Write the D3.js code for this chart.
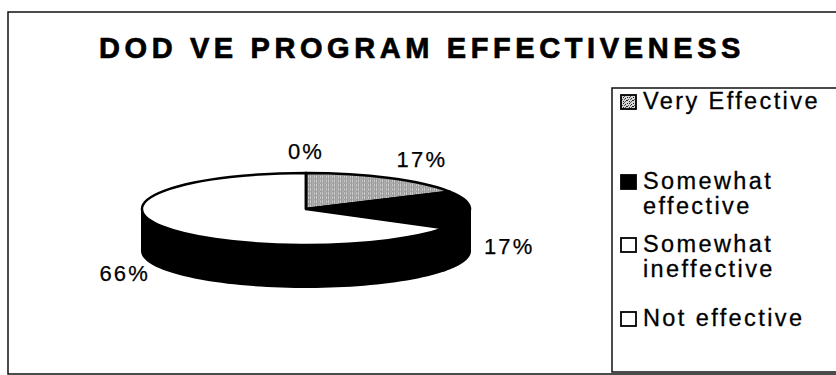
<!DOCTYPE html>
<html>
<head>
<meta charset="utf-8">
<script src="https://cdn.jsdelivr.net/npm/d3@7/dist/d3.min.js"></script>
<style>
  html, body { margin: 0; padding: 0; background: #fff; }
  svg { display: block; }
</style>
</head>
<body>
<svg id="chart" width="836" height="375"></svg>
<script>
// ---- data ----
const title = "DOD VE PROGRAM EFFECTIVENESS";
const categories = ["Very Effective", "Somewhat effective", "Somewhat ineffective", "Not effective"];
const values = [17, 17, 66, 0];
const valueLabels = ["17%", "17%", "66%", "0%"];
const legendLines = [["Very Effective"], ["Somewhat", "effective"], ["Somewhat", "ineffective"], ["Not effective"]];

// ---- styles / layout ----
const W = 836, H = 375;
const topFills = ["url(#stipple)", "#000", "#fff", "#fff"];
const sideFills = ["#000", "#000", "#000", "#000"];
const cx = 306, cy = 209, rx = 164, ry = 36, depth = 42;
const font = "Arial, 'Liberation Sans', Helvetica, sans-serif";

const svg = d3.select("#chart");

// pattern for stippled slice
const defs = svg.append("defs");
const pat = defs.append("pattern").attr("id", "stipple")
  .attr("patternUnits", "userSpaceOnUse").attr("width", 6).attr("height", 6);
pat.append("rect").attr("width", 6).attr("height", 6).attr("fill", "#d8d8d8");
const dots = [[0,0],[3,1],[1,2],[4,3],[2,4],[5,5],[0,3],[3,4],[5,1],[1,5]];
pat.selectAll("rect.d").data(dots).join("rect").attr("class", "d")
  .attr("x", d => d[0]).attr("y", d => d[1]).attr("width", 1).attr("height", 1)
  .attr("fill", (d, i) => i % 3 === 0 ? "#555" : "#222");

// outer frame
svg.append("rect").attr("x", 8).attr("y", 12).attr("width", W + 10).attr("height", 362)
  .attr("fill", "none").attr("stroke", "#111").attr("stroke-width", 1.5);

// title
svg.append("text").attr("x", 99).attr("y", 58)
  .attr("font-family", font).attr("font-weight", "bold").attr("font-size", 29)
  .attr("letter-spacing", 4.6).attr("fill", "#000")
  .attr("stroke", "#000").attr("stroke-width", 0.7).text(title);

// pie
const pie = d3.pie().sort(null).value(d => d);
const arcs = pie(values);

const ex = a => cx + rx * Math.sin(a);
const ey = a => cy - ry * Math.cos(a);

// side walls (front half: angles PI/2 .. 3PI/2)
const line = d3.line();
const gSide = svg.append("g");
arcs.forEach((d, i) => {
  const a1 = Math.max(d.startAngle, Math.PI / 2);
  const a2 = Math.min(d.endAngle, 3 * Math.PI / 2);
  if (a2 <= a1) return;
  const n = 60;
  const pts = [];
  for (let k = 0; k <= n; k++) { const a = a1 + (a2 - a1) * k / n; pts.push([ex(a), ey(a)]); }
  for (let k = n; k >= 0; k--) { const a = a1 + (a2 - a1) * k / n; pts.push([ex(a), ey(a) + depth]); }
  gSide.append("path").attr("d", line(pts) + "Z")
    .attr("fill", sideFills[i]).attr("stroke", "#000").attr("stroke-width", 2);
});

// top faces
const arc = d3.arc().innerRadius(0).outerRadius(rx);
const gTop = svg.append("g").attr("transform", `translate(${cx},${cy}) scale(1,${ry / rx})`);
gTop.selectAll("path").data(arcs).join("path")
  .attr("d", arc)
  .attr("fill", (d, i) => topFills[i])
  .attr("stroke", "#000").attr("stroke-width", 2.5)
  .attr("vector-effect", "non-scaling-stroke")
  .attr("stroke-linejoin", "round");

// value labels
const labR = 178, labRy = 58;
svg.append("g").selectAll("text").data(arcs).join("text")
  .each(function (d, i) {
    const a = (d.startAngle + d.endAngle) / 2;
    const s = Math.sin(a), c = Math.cos(a);
    const anchor = Math.abs(s) < 0.2 ? "middle" : (s > 0 ? "start" : "end");
    const x = Math.abs(s) < 0.2 ? cx : cx + labR * s;
    const yc = cy - labRy * c + (c < 0.3 ? depth * 0.86 : 0);
    d3.select(this).attr("x", x).attr("y", yc + 7.5).attr("text-anchor", anchor)
      .attr("font-family", font).attr("font-size", 22).attr("letter-spacing", 2.2)
      .attr("fill", "#000").attr("stroke", "#000").attr("stroke-width", 0.25)
      .text(valueLabels[i]);
  });

// legend
svg.append("rect").attr("x", 612).attr("y", 88).attr("width", 240).attr("height", 284)
  .attr("fill", "none").attr("stroke", "#111").attr("stroke-width", 1.5);
const legendBase = [109, 189, 252, 326];
const lineGap = 25;
const gLeg = svg.append("g");
categories.forEach((cat, i) => {
  const b = legendBase[i];
  gLeg.append("rect").attr("x", 621).attr("y", b - 14).attr("width", 15).attr("height", 14)
    .attr("fill", topFills[i]).attr("stroke", "#000").attr("stroke-width", 1.8);
  legendLines[i].forEach((t, j) => {
    gLeg.append("text").attr("x", 643).attr("y", b + j * lineGap)
      .attr("font-family", font).attr("font-size", 23.5).attr("letter-spacing", 2.4)
      .attr("fill", "#000").attr("stroke", "#000").attr("stroke-width", 0.3).text(t);
  });
});
</script>
</body>
</html>
